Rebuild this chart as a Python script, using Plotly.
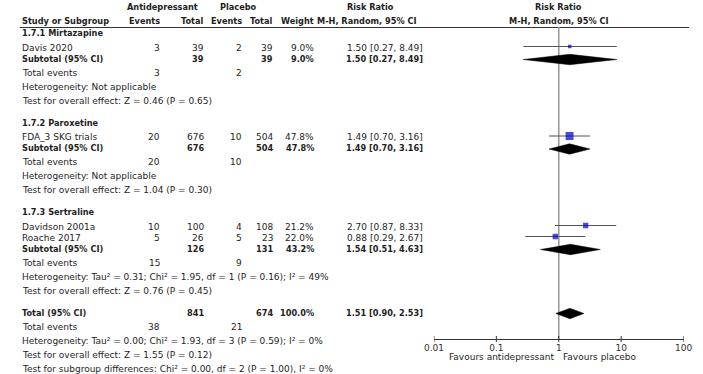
import math
import plotly.graph_objects as go

# ---------------- data ----------------
study_names = ["Davis 2020", "FDA_3 SKG trials", "Davidson 2001a", "Roache 2017"]
study_group = [0, 1, 2, 2]
ad_events = [3, 20, 10, 5]
ad_total = [39, 676, 100, 26]
pl_events = [2, 10, 4, 5]
pl_total = [39, 504, 108, 23]
weights = [9.0, 47.8, 21.2, 22.0]
rr = [1.50, 1.49, 2.70, 0.88]
rr_lo = [0.27, 0.70, 0.87, 0.29]
rr_hi = [8.49, 3.16, 8.33, 2.67]

group_names = ["1.7.1 Mirtazapine", "1.7.2 Paroxetine", "1.7.3 Sertraline"]
sub_ad_total = [39, 676, 126]
sub_pl_total = [39, 504, 131]
sub_weight = [9.0, 47.8, 43.2]
sub_rr = [1.50, 1.49, 1.54]
sub_lo = [0.27, 0.70, 0.51]
sub_hi = [8.49, 3.16, 4.63]
sub_ad_events = [3, 20, 15]
sub_pl_events = [2, 10, 9]
sub_het = ["Not applicable", "Not applicable",
           "Tau² = 0.31; Chi² = 1.95, df = 1 (P = 0.16); I² = 49%"]
sub_test = ["Z = 0.46 (P = 0.65)", "Z = 1.04 (P = 0.30)", "Z = 0.76 (P = 0.45)"]

tot_ad_total = 841
tot_pl_total = 674
tot_weight = 100.0
tot_rr = 1.51
tot_lo = 0.90
tot_hi = 2.53
tot_ad_events = 38
tot_pl_events = 21
tot_het = "Tau² = 0.00; Chi² = 1.93, df = 3 (P = 0.59); I² = 0%"
tot_test = "Z = 1.55 (P = 0.12)"
subgroup_test = "Chi² = 0.00, df = 2 (P = 1.00), I² = 0%"

tick_vals = [0.01, 0.1, 1, 10, 100]
tick_text = ["0.01", "0.1", "1", "10", "100"]
favours_left = "Favours antidepressant"
favours_right = "Favours placebo"

# ---------------- layout constants ----------------
W, H = 703, 374
FONT = "DejaVu Sans"
FS = 9
FSB = 8.2
TXT = "#1e1e1e"
X_NAME = 11
X_AE, X_AT, X_PE, X_PT, X_W, X_RR = 155, 200, 239, 271, 313, 425
AX_L, AX_R = 435.7, 692.3
AX_Y = 339

annotations = []


def txt(x, y, s, anchor="left", bold=False, color=TXT, size=None):
    annotations.append(dict(
        x=x, y=y, xref="x", yref="y", text=("<b>%s</b>" % s) if bold else s,
        showarrow=False, xanchor=anchor, yanchor="middle",
        font=dict(family=FONT, size=size or (FSB if bold else FS), color=color),
        borderpad=0))


# header
txt(157, 7, "Antidepressant", "center", True)
txt(235, 7, "Placebo", "center", True)
txt(371, 7, "Risk Ratio", "center", True)
txt(564, 7, "Risk Ratio", "center", True)
txt(X_NAME, 21, "Study or Subgroup", "left", True)
txt(X_AE, 21, "Events", "right", True)
txt(X_AT, 21, "Total", "right", True)
txt(X_PE, 21, "Events", "right", True)
txt(X_PT, 21, "Total", "right", True)
txt(X_W, 21, "Weight", "right", True)
txt(367, 21, "M-H, Random, 95% CI", "center", True)
txt(564, 21, "M-H, Random, 95% CI", "center", True)


def ci_str(e, l, h):
    return "%.2f [%.2f, %.2f]" % (e, l, h)


sq_x, sq_y, sq_s = [], [], []
ci_x, ci_y = [], []
diamonds = []

y = 33.0
for g in range(len(group_names)):
    txt(X_NAME, y, group_names[g], "left", True)
    y += 14.5
    idx = [i for i in range(len(study_names)) if study_group[i] == g]
    for i in idx:
        txt(X_NAME, y, study_names[i])
        txt(X_AE, y, str(ad_events[i]), "right")
        txt(X_AT, y, str(ad_total[i]), "right")
        txt(X_PE, y, str(pl_events[i]), "right")
        txt(X_PT, y, str(pl_total[i]), "right")
        txt(X_W, y, "%.1f%%" % weights[i], "right")
        txt(X_RR, y, ci_str(rr[i], rr_lo[i], rr_hi[i]), "right")
        sq_x.append(rr[i]); sq_y.append(y - 1); sq_s.append(1.15 * math.sqrt(weights[i]))
        ci_x += [rr_lo[i], rr_hi[i], None]; ci_y += [y - 1, y - 1, None]
        y += 11
    txt(X_NAME, y, "Subtotal (95% CI)", "left", True)
    txt(X_AT, y, str(sub_ad_total[g]), "right", True)
    txt(X_PT, y, str(sub_pl_total[g]), "right", True)
    txt(X_W, y, "%.1f%%" % sub_weight[g], "right", True)
    txt(X_RR, y, ci_str(sub_rr[g], sub_lo[g], sub_hi[g]), "right", True)
    diamonds.append((sub_rr[g], sub_lo[g], sub_hi[g], y + 1))
    y += 14
    txt(X_NAME, y, "Total events")
    txt(X_AE, y, str(sub_ad_events[g]), "right")
    txt(X_PE, y, str(sub_pl_events[g]), "right")
    y += 14
    txt(X_NAME, y, "Heterogeneity: " + sub_het[g])
    y += 14
    txt(X_NAME, y, "Test for overall effect: " + sub_test[g])
    y += 22

txt(X_NAME, y, "Total (95% CI)", "left", True)
txt(X_AT, y, str(tot_ad_total), "right", True)
txt(X_PT, y, str(tot_pl_total), "right", True)
txt(X_W, y, "%.1f%%" % tot_weight, "right", True)
txt(X_RR, y, ci_str(tot_rr, tot_lo, tot_hi), "right", True)
diamonds.append((tot_rr, tot_lo, tot_hi, y + 1))
y += 14
txt(X_NAME, y, "Total events")
txt(X_AE, y, str(tot_ad_events), "right")
txt(X_PE, y, str(tot_pl_events), "right")
y += 14
txt(X_NAME, y, "Heterogeneity: " + tot_het)
y += 14
txt(X_NAME, y, "Test for overall effect: " + tot_test)
y += 14
txt(X_NAME, y, "Test for subgroup differences: " + subgroup_test)

# favours labels (log axis annotations use log10 of value)
annotations.append(dict(x=math.log10(1), y=357, xref="x2", yref="y", text=favours_left,
                        showarrow=False, xanchor="right", yanchor="middle", xshift=-2,
                        font=dict(family=FONT, size=FS, color=TXT)))
annotations.append(dict(x=math.log10(1), y=357, xref="x2", yref="y", text=favours_right,
                        showarrow=False, xanchor="left", yanchor="middle", xshift=2,
                        font=dict(family=FONT, size=FS, color=TXT)))

fig = go.Figure()

# header rule
fig.add_trace(go.Scatter(x=[10, 698], y=[27.5, 27.5], mode="lines", xaxis="x", yaxis="y",
                         line=dict(color="#333", width=1), hoverinfo="skip", showlegend=False))

# null line
fig.add_trace(go.Scatter(x=[1, 1], y=[27, AX_Y], mode="lines", xaxis="x2", yaxis="y",
                         line=dict(color="#9a9a9a", width=1.6), hoverinfo="skip", showlegend=False))

# CI lines
fig.add_trace(go.Scatter(x=ci_x, y=ci_y, mode="lines", xaxis="x2", yaxis="y",
                         line=dict(color="#555", width=1), hoverinfo="skip", showlegend=False))

# squares
fig.add_trace(go.Scatter(x=sq_x, y=sq_y, mode="markers", xaxis="x2", yaxis="y",
                         marker=dict(symbol="square", size=sq_s, color="#0000cc",
                                     line=dict(width=0)),
                         hoverinfo="skip", showlegend=False))

# diamonds
DH = 5.2
for est, lo, hi, yy in diamonds:
    fig.add_trace(go.Scatter(x=[lo, est, hi, est, lo], y=[yy, yy - DH, yy, yy + DH, yy],
                             mode="lines", fill="toself", fillcolor="black",
                             line=dict(color="black", width=0.5), xaxis="x2", yaxis="y",
                             hoverinfo="skip", showlegend=False))

# tick marks
tk_x, tk_y = [], []
for v in tick_vals:
    tk_x += [v, v, None]
    tk_y += [AX_Y - 3, AX_Y + 3, None]
fig.add_trace(go.Scatter(x=tk_x, y=tk_y, mode="lines", xaxis="x2", yaxis="y",
                         line=dict(color="#333", width=1), hoverinfo="skip", showlegend=False))

fig.update_layout(
    width=W, height=H, margin=dict(l=0, r=0, t=0, b=0),
    paper_bgcolor="white", plot_bgcolor="rgba(0,0,0,0)",
    annotations=annotations, showlegend=False,
    xaxis=dict(range=[0, W], domain=[0, 1], visible=False, fixedrange=True),
    yaxis=dict(range=[H, 0], domain=[0, 1], visible=False, fixedrange=True),
    xaxis2=dict(type="log", range=[-2, 2], domain=[AX_L / W, AX_R / W],
                anchor="free", position=(H - AX_Y) / H,
                showline=True, linecolor="#333", linewidth=1,
                showgrid=False, zeroline=False, ticks="",
                tickvals=tick_vals, ticktext=tick_text,
                tickfont=dict(family=FONT, size=FS, color="#333"),
                ticklabelstandoff=0, fixedrange=True),
)

fig.write_html("out.html", post_script="document.body.style.margin='0px';",
               config={"displayModeBar": False})
